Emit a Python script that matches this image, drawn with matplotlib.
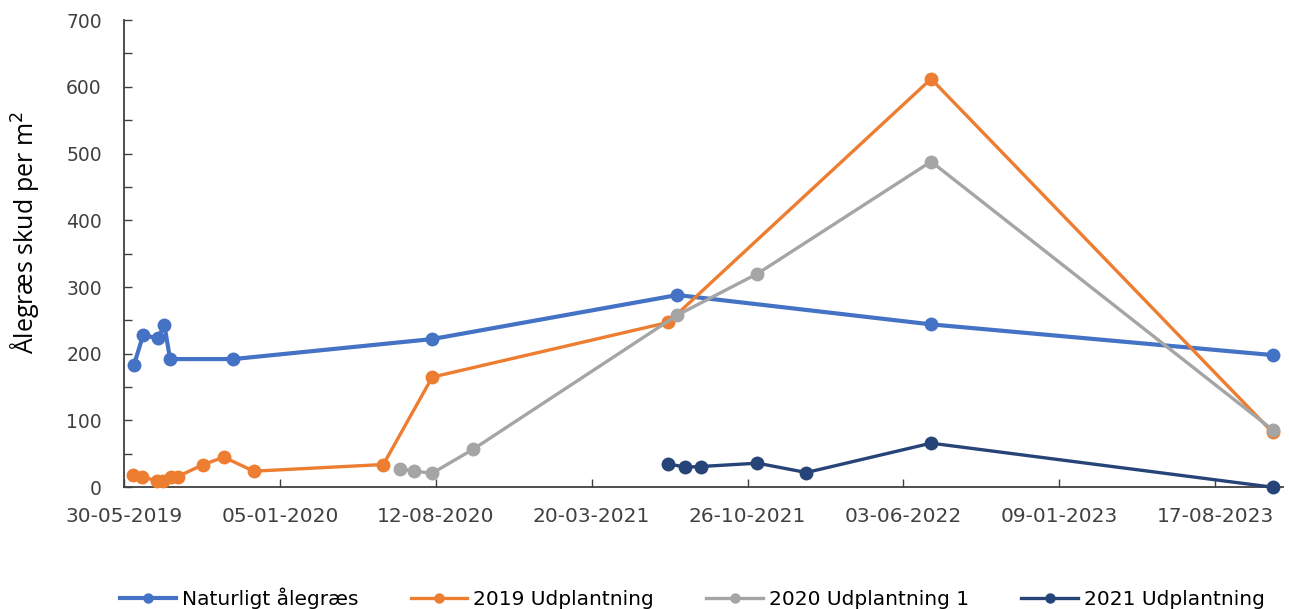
import matplotlib
matplotlib.use("Agg")
import matplotlib.pyplot as plt
import matplotlib.dates as mdates
from matplotlib.ticker import MultipleLocator
import pandas as pd

# Data
nat_dates = ["2019-06-13", "2019-06-26", "2019-07-17", "2019-07-26", "2019-08-03",
             "2019-10-31", "2020-08-07", "2021-07-19", "2022-07-12", "2023-11-06"]
nat_vals = [183, 228, 223, 243, 192, 192, 222, 288, 244, 198]

u2019_dates = ["2019-06-11", "2019-06-24", "2019-07-16", "2019-07-24", "2019-08-05",
               "2019-08-14", "2019-09-19", "2019-10-18", "2019-11-29", "2020-05-30",
               "2020-08-07", "2021-07-06", "2022-07-12", "2023-11-06"]
u2019_vals = [18, 15, 10, 9, 16, 16, 34, 45, 24, 34, 165, 247, 612, 82]

u2020_dates = ["2020-06-23", "2020-07-12", "2020-08-07", "2020-10-04", "2021-07-19",
               "2021-11-09", "2022-07-12", "2023-11-06"]
u2020_vals = [28, 24, 21, 57, 258, 320, 488, 86]

u2021_dates = ["2021-07-06", "2021-07-30", "2021-08-21", "2021-11-09", "2022-01-17",
               "2022-07-12", "2023-11-06"]
u2021_vals = [35, 30, 31, 36, 22, 66, 0]

series_names = ["Naturligt ålegræs", "2019 Udplantning", "2020 Udplantning 1", "2021 Udplantning"]
series_colors = ["#4472C4", "#ED7D31", "#A5A5A5", "#264478"]

tick_start = "2019-05-30"
tick_step_days = 220
n_ticks = 8

fig = plt.figure(figsize=(12.89, 6.09), dpi=100)
ax = fig.add_axes([0.0962, 0.2, 0.8988, 0.767])

data = [(nat_dates, nat_vals), (u2019_dates, u2019_vals),
        (u2020_dates, u2020_vals), (u2021_dates, u2021_vals)]
lws = [3.0, 2.4, 2.4, 2.4]
for (d, v), name, c, lw in zip(data, series_names, series_colors, lws):
    ax.plot(pd.to_datetime(d), v, color=c, lw=lw, marker="o", markersize=10,
            markeredgewidth=0, label=name, clip_on=False, zorder=3)

ticks = pd.date_range(tick_start, periods=n_ticks, freq=f"{tick_step_days}D")
ax.set_xticks(ticks)
ax.xaxis.set_major_formatter(mdates.DateFormatter("%d-%m-%Y"))
ax.set_xlim(pd.Timestamp(tick_start), pd.Timestamp("2023-11-20"))
ax.set_ylim(0, 700)
ax.yaxis.set_major_locator(MultipleLocator(100))
ax.yaxis.set_minor_locator(MultipleLocator(50))

for s in ["top", "right"]:
    ax.spines[s].set_visible(False)
for s in ["left", "bottom"]:
    ax.spines[s].set_color("#404040")
    ax.spines[s].set_linewidth(1.3)

ax.tick_params(axis="y", which="both", direction="in", length=6, width=1, color="#404040",
               labelsize=13.5, pad=16, labelcolor="#404040")
ax.tick_params(axis="x", which="both", direction="in", length=6, width=1, color="#404040",
               labelsize=14.5, pad=14, labelcolor="#404040")
for lab in ax.get_xticklabels() + ax.get_yticklabels():
    lab.set_fontfamily("DejaVu Sans")

ax.set_ylabel("Ålegræs skud per m$^2$", fontsize=18, fontfamily="Open Sans")
ax.yaxis.set_label_coords(-0.072, 0.546)

leg = fig.legend(loc="lower center", bbox_to_anchor=(0.537, -0.03), ncol=4, frameon=False,
                 prop={"family": "DejaVu Sans", "size": 14.5}, handlelength=2.8,
                 columnspacing=2.6, handletextpad=0.3, markerscale=0.75)

fig.savefig("out.png", dpi=100)
